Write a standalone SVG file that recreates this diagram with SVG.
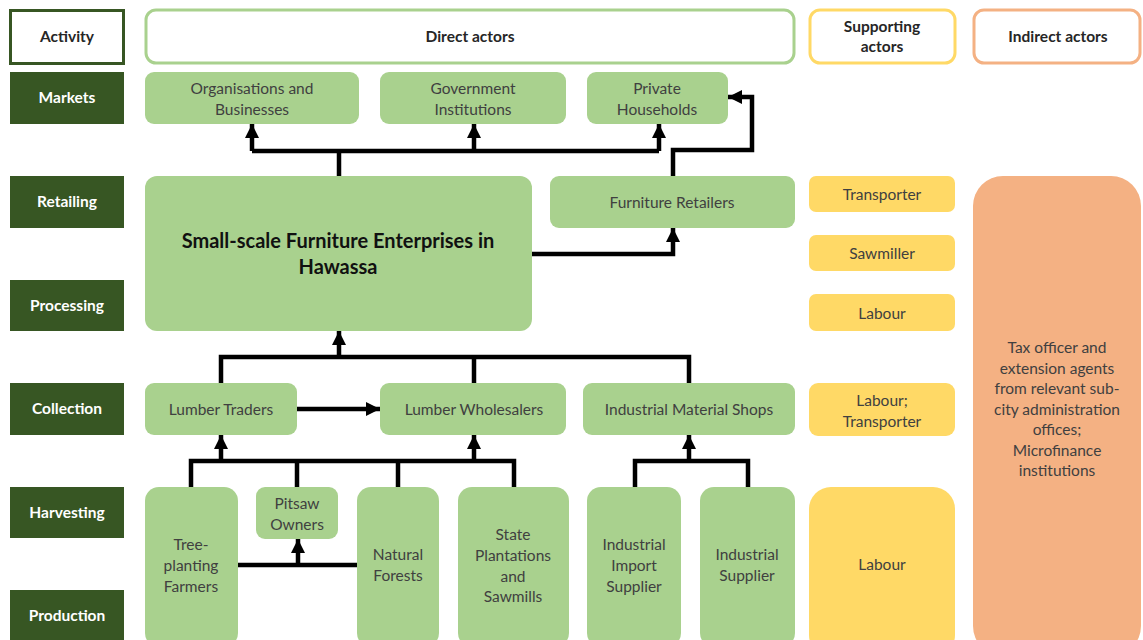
<svg xmlns="http://www.w3.org/2000/svg" width="1143" height="640" viewBox="0 0 1143 640">
<style>
.act{fill:#375623}
.actt{font-family:Lato,"Liberation Sans",sans-serif;font-weight:bold;font-size:15.5px;fill:#ffffff;text-anchor:middle}
.hdt{font-family:Lato,"Liberation Sans",sans-serif;font-weight:bold;font-size:15.5px;fill:#262626;text-anchor:middle}
.g{fill:#A9D18E}
.y{fill:#FFD966}
.o{fill:#F4B183}
.t{font-family:Lato,"Liberation Sans",sans-serif;font-size:15.5px;fill:#404040;text-anchor:middle}
.big{font-family:Lato,"Liberation Sans",sans-serif;font-weight:bold;font-size:20px;fill:#111111;text-anchor:middle}
.c{fill:none;stroke:#000;stroke-width:4.5}
</style>
<defs>
<marker id="ah" markerUnits="userSpaceOnUse" markerWidth="16" markerHeight="16" refX="14" refY="7" orient="auto">
<path d="M0,0 L14,7 L0,14 z" fill="#000"/>
</marker>
</defs>
<rect width="1143" height="640" fill="#ffffff"/>

<g id="activity-header"><rect x="10.5" y="10.5" width="113" height="53" fill="#fff" stroke="#375623" stroke-width="3"/><text class="hdt" x="67" y="42">Activity</text></g>
<g id="act-markets"><rect class="act" x="10" y="72" width="114" height="52"/><text class="actt" x="67" y="103">Markets</text></g>
<g id="act-retailing"><rect class="act" x="10" y="176" width="114" height="52"/><text class="actt" x="67" y="207">Retailing</text></g>
<g id="act-processing"><rect class="act" x="10" y="280" width="114" height="51"/><text class="actt" x="67" y="311">Processing</text></g>
<g id="act-collection"><rect class="act" x="10" y="383" width="114" height="52"/><text class="actt" x="67" y="414">Collection</text></g>
<g id="act-harvesting"><rect class="act" x="10" y="487" width="114" height="51"/><text class="actt" x="67" y="518">Harvesting</text></g>
<g id="act-production"><rect class="act" x="10" y="590" width="114" height="52"/><text class="actt" x="67" y="621">Production</text></g>

<g id="hdr-direct"><rect x="146" y="10" width="648" height="53" rx="10" fill="#fff" stroke="#A9D18E" stroke-width="3"/><text class="hdt" x="470" y="42">Direct actors</text></g>
<g id="hdr-supporting"><rect x="810" y="10" width="145" height="53" rx="10" fill="#fff" stroke="#FFD966" stroke-width="3"/><text class="hdt" x="882" y="32">Supporting</text><text class="hdt" x="882" y="52">actors</text></g>
<g id="hdr-indirect"><rect x="974" y="10" width="166" height="53" rx="10" fill="#fff" stroke="#F4B183" stroke-width="3"/><text class="hdt" x="1058" y="42">Indirect actors</text></g>

<g id="n-org"><rect class="g" x="145" y="72" width="214" height="52" rx="9"/><text class="t" x="252" y="94">Organisations and</text><text class="t" x="252" y="115">Businesses</text></g>
<g id="n-gov"><rect class="g" x="380" y="72" width="186" height="52" rx="9"/><text class="t" x="473" y="94">Government</text><text class="t" x="473" y="115">Institutions</text></g>
<g id="n-priv"><rect class="g" x="587" y="72" width="141" height="52" rx="9"/><text class="t" x="657" y="94">Private</text><text class="t" x="657" y="115">Households</text></g>

<g id="n-ssfe"><rect class="g" x="145" y="176" width="387" height="155" rx="12"/><text class="big" x="338" y="248">Small-scale Furniture Enterprises in</text><text class="big" x="338" y="274">Hawassa</text></g>
<g id="n-fret"><rect class="g" x="550" y="176" width="245" height="52" rx="9"/><text class="t" x="672" y="208">Furniture Retailers</text></g>

<g id="n-lt"><rect class="g" x="145" y="383" width="152" height="52" rx="9"/><text class="t" x="221" y="415">Lumber Traders</text></g>
<g id="n-lw"><rect class="g" x="380" y="383" width="186" height="52" rx="9"/><text class="t" x="474" y="415">Lumber Wholesalers</text></g>
<g id="n-ims"><rect class="g" x="583" y="383" width="212" height="52" rx="9"/><text class="t" x="689" y="415">Industrial Material Shops</text></g>

<g id="n-tpf"><rect class="g" x="145" y="487" width="93" height="160" rx="14"/><text class="t" x="191" y="550">Tree-</text><text class="t" x="191" y="571">planting</text><text class="t" x="191" y="592">Farmers</text></g>
<g id="n-pit"><rect class="g" x="256" y="487" width="82" height="52" rx="9"/><text class="t" x="297" y="509">Pitsaw</text><text class="t" x="297" y="530">Owners</text></g>
<g id="n-nf"><rect class="g" x="357" y="487" width="82" height="160" rx="14"/><text class="t" x="398" y="560">Natural</text><text class="t" x="398" y="581">Forests</text></g>
<g id="n-sp"><rect class="g" x="458" y="487" width="111" height="160" rx="14"/><text class="t" x="513" y="540">State</text><text class="t" x="513" y="561">Plantations</text><text class="t" x="513" y="582">and</text><text class="t" x="513" y="602">Sawmills</text></g>
<g id="n-iis"><rect class="g" x="587" y="487" width="94" height="160" rx="14"/><text class="t" x="634" y="550">Industrial</text><text class="t" x="634" y="571">Import</text><text class="t" x="634" y="592">Supplier</text></g>
<g id="n-is"><rect class="g" x="700" y="487" width="95" height="160" rx="14"/><text class="t" x="747" y="560">Industrial</text><text class="t" x="747" y="581">Supplier</text></g>

<g id="s-transporter"><rect class="y" x="809" y="176" width="146" height="36" rx="7"/><text class="t" x="882" y="200">Transporter</text></g>
<g id="s-sawmiller"><rect class="y" x="809" y="235" width="146" height="36" rx="7"/><text class="t" x="882" y="259">Sawmiller</text></g>
<g id="s-labour1"><rect class="y" x="809" y="294" width="146" height="37" rx="7"/><text class="t" x="882" y="319">Labour</text></g>
<g id="s-labour2"><rect class="y" x="809" y="383" width="146" height="53" rx="9"/><text class="t" x="882" y="406">Labour;</text><text class="t" x="882" y="427">Transporter</text></g>
<g id="s-labour3"><rect class="y" x="809" y="487" width="146" height="170" rx="22"/><text class="t" x="882" y="570">Labour</text></g>

<g id="i-indirect"><rect class="o" x="973" y="176" width="168" height="480" rx="30"/>
<text class="t" x="1057" y="353">Tax officer and</text><text class="t" x="1057" y="374">extension agents</text><text class="t" x="1057" y="394">from relevant sub-</text><text class="t" x="1057" y="415">city administration</text><text class="t" x="1057" y="435">offices;</text><text class="t" x="1057" y="456">Microfinance</text><text class="t" x="1057" y="476">institutions</text></g>

<g id="connectors">
<path class="c" d="M339,176 V151"/>
<path class="c" d="M252,151 H659"/>
<path class="c" d="M252,151 V124" marker-end="url(#ah)"/>
<path class="c" d="M474,151 V124" marker-end="url(#ah)"/>
<path class="c" d="M659,151 V124" marker-end="url(#ah)"/>
<path class="c" d="M673,176 V150 H752 V97 H728" marker-end="url(#ah)"/>
<path class="c" d="M532,254 H673 V228" marker-end="url(#ah)"/>
<path class="c" d="M221,383 V357 H689 V383"/>
<path class="c" d="M474,357 V383"/>
<path class="c" d="M339,357 V331" marker-end="url(#ah)"/>
<path class="c" d="M297,409 H380" marker-end="url(#ah)"/>
<path class="c" d="M191,487 V461 H514 V487"/>
<path class="c" d="M297,461 V487"/>
<path class="c" d="M398,461 V487"/>
<path class="c" d="M221,461 V435" marker-end="url(#ah)"/>
<path class="c" d="M474,461 V435" marker-end="url(#ah)"/>
<path class="c" d="M238,565 H357"/>
<path class="c" d="M298,565 V539" marker-end="url(#ah)"/>
<path class="c" d="M635,487 V461 H748 V487"/>
<path class="c" d="M689,461 V435" marker-end="url(#ah)"/>
</g>
</svg>
